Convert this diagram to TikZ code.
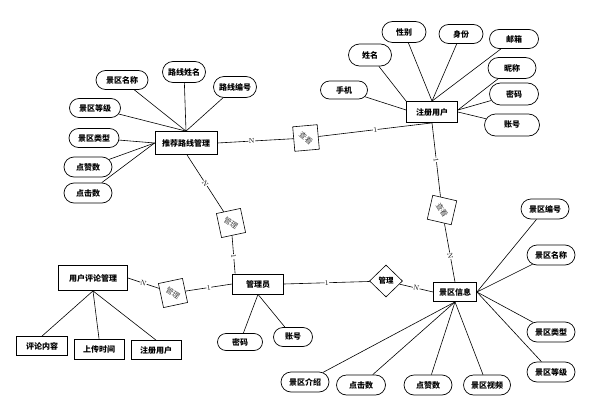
\documentclass[tikz,border=0pt]{standalone}
\usepackage{fontspec}
\newfontfamily\cjk{Noto Sans CJK SC}
\usetikzlibrary{shapes.misc,shapes.geometric}
\begin{document}
\begin{tikzpicture}[x=1pt,y=-1pt,
  ent/.style={draw,rectangle,line width=0.8pt,inner sep=1pt,font=\cjk\bfseries\fontsize{8}{9}\selectfont},
  attr/.style={draw,rounded rectangle,line width=0.7pt,inner sep=1pt,minimum width=50pt,minimum height=20pt,font=\cjk\bfseries\fontsize{8}{9}\selectfont},
  rattr/.style={draw,rectangle,line width=0.8pt,inner sep=1pt,minimum width=50pt,minimum height=19pt,font=\cjk\bfseries\fontsize{8}{9}\selectfont},
  rel/.style={draw,diamond,aspect=1,line width=0.6pt,inner sep=0pt,minimum width=35pt,minimum height=35pt,font=\cjk\fontsize{7.5}{8}\selectfont,text=black!75},
  ln/.style={line width=0.6pt},
  card/.style={fill=white,inner sep=0.3pt,font=\fontsize{7}{7}\selectfont,sloped}
]
\useasboundingbox (0,0) rectangle (591,412);

% entities
\node[ent,minimum width=62pt,minimum height=23pt] (tj) at (186,143) {推荐路线管理};
\node[ent,minimum width=51pt,minimum height=21pt] (zc) at (432,112) {注册用户};
\node[ent,minimum width=51pt,minimum height=20pt] (gl) at (258,284) {管理员};
\node[ent,minimum width=69pt,minimum height=25pt] (pl) at (93,278) {用户评论管理};
\node[ent,minimum width=43pt,minimum height=19pt] (jq) at (455,292) {景区信息};

% relations
\node[rel,rotate=-40] (r1) at (306,138) {查看};
\node[rel,rotate=-58] (r2) at (442,210) {查看};
\node[rel,rotate=-33] (r3) at (231,223) {管理};
\node[rel,rotate=-33] (r4) at (173,293) {管理};
\node[rel,minimum width=33pt,minimum height=32pt,text=black,font=\cjk\bfseries\fontsize{7.5}{8}\selectfont] (r5) at (386,281) {管理};

% attributes of tj
\node[attr,minimum width=54pt,minimum height=19pt] (a1) at (122,80) {景区名称};
\node[attr,minimum width=45pt,minimum height=21pt] (a2) at (184,72) {路线姓名};
\node[attr,minimum width=45pt,minimum height=21pt] (a3) at (235,87) {路线编号};
\node[attr,minimum width=53pt,minimum height=19pt] (a4) at (95,108) {景区等级};
\node[attr,minimum width=52pt,minimum height=19pt] (a5) at (94,138) {景区类型};
\node[attr] (a6) at (88,167) {点赞数};
\node[attr] (a7) at (88,193) {点击数};

% attributes of zc
\node[attr,minimum width=46pt,minimum height=21pt] (b1) at (404,32) {性别};
\node[attr,minimum width=46pt,minimum height=19pt] (b2) at (461,34) {身份};
\node[attr,minimum width=51pt,minimum height=19pt] (b3) at (514,39) {邮箱};
\node[attr,minimum width=45pt,minimum height=22pt] (b4) at (370,55) {姓名};
\node[attr,minimum width=49pt,minimum height=18pt] (b5) at (344,90) {手机};
\node[attr,minimum width=50pt,minimum height=21pt] (b6) at (512,68) {昵称};
\node[attr,minimum width=51pt,minimum height=22pt] (b7) at (514,94) {密码};
\node[attr,minimum width=57pt,minimum height=22pt] (b8) at (512,125) {账号};

% attributes of gl
\node[attr,minimum width=47pt,minimum height=17pt] (c1) at (240,342) {密码};
\node[attr,minimum width=41pt,minimum height=19pt] (c2) at (293,337) {账号};

% attributes of pl
\node[rattr,minimum width=51pt] (d1) at (42,346) {评论内容};
\node[rattr,minimum height=20pt] (d2) at (99,349) {上传时间};
\node[rattr] (d3) at (156,350) {注册用户};

% attributes of jq
\node[attr] (e1) at (545,209) {景区编号};
\node[attr] (e2) at (551,255) {景区名称};
\node[attr] (e3) at (551,332) {景区类型};
\node[attr] (e4) at (551,372) {景区等级};
\node[attr,minimum width=49pt] (e5) at (487,385) {景区视频};
\node[attr] (e6) at (428,385) {点赞数};
\node[attr,minimum width=51pt] (e7) at (361,385) {点击数};
\node[attr] (e8) at (305,382) {景区介绍};

% attribute lines
\foreach \a in {a1,a2,a3,a4} \draw[ln] (\a) -- (tj.north);
\foreach \a in {a5,a6,a7} \draw[ln] (\a) -- (tj.west);
\draw[ln] (b5) -- ([yshift=2pt]zc.west);
\draw[ln] (b4) -- (zc.north west);
\foreach \a in {b1,b2,b3} \draw[ln] (\a) -- (zc.north);
\foreach \a in {b6,b7} \draw[ln] (\a) -- ([yshift=2pt]zc.east);
\draw[ln] (b8) -- (zc.east);
\foreach \a in {c1,c2} \draw[ln] (\a) -- (gl.south);
\foreach \a in {d1,d2,d3} \draw[ln] (\a.north) -- (pl.south);
\foreach \a in {e1,e2,e3,e4} \draw[ln] (\a) -- (jq.east);
\foreach \a in {e5,e6,e7,e8} \draw[ln] (\a) -- (jq.south);

% relationship lines
\draw[ln] (tj.east) -- node[card,pos=0.45] {N} (r1);
\draw[ln] (r1) -- node[card,pos=0.5] {1} (zc.south);
\draw[ln] (zc.south) -- node[card,pos=0.5] {1} (r2);
\draw[ln] (r2) -- node[card,pos=0.55] {N} (jq.north);
\draw[ln] ([xshift=1pt]tj.south) -- node[card,pos=0.5] {N} (r3);
\draw[ln] (r3) -- node[card,pos=0.55] {1} ([xshift=3pt]gl.north west);
\draw[ln] (pl.east) -- node[card,pos=0.5] {N} (r4);
\draw[ln] (r4) -- node[card,pos=0.5] {1} (gl.west);
\draw[ln] (gl.east) -- node[card,pos=0.5] {1} (r5);
\draw[ln] (r5) -- node[card,pos=0.5] {N} (jq.west);
\end{tikzpicture}
\end{document}
